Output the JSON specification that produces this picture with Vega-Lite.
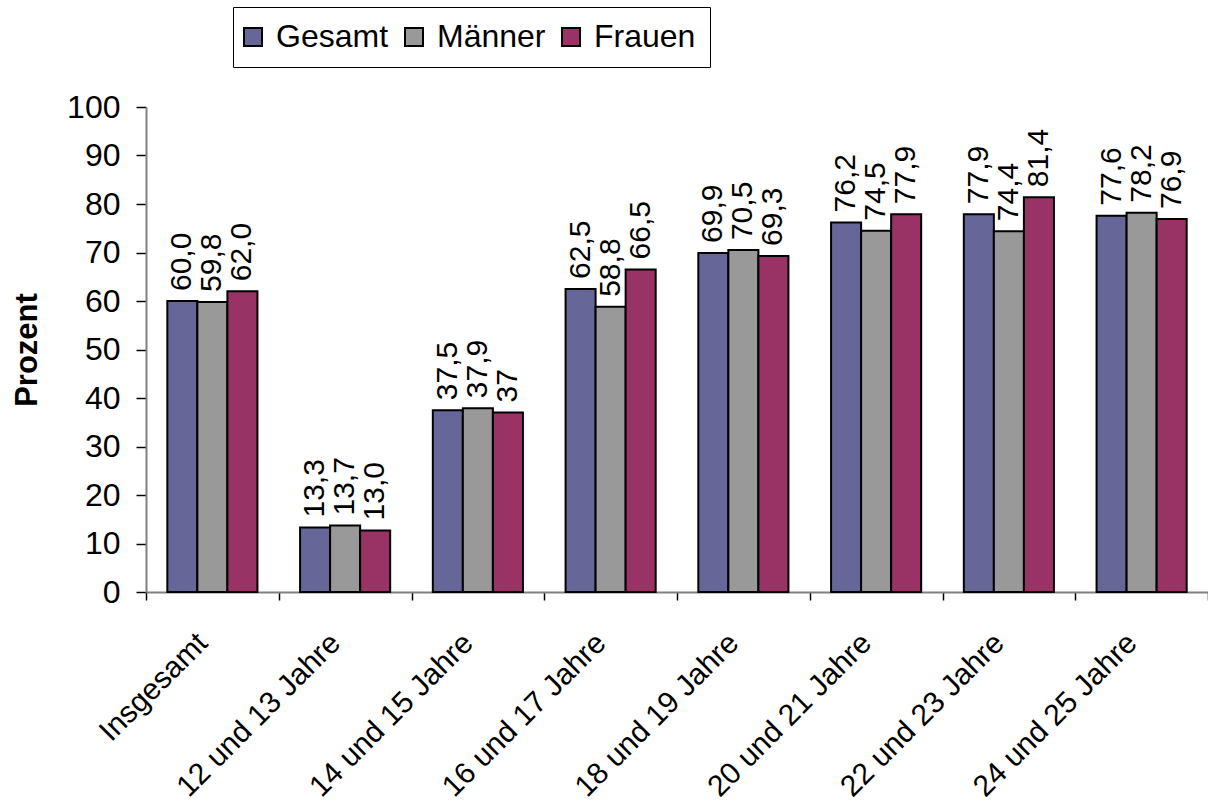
{
  "$schema": "https://vega.github.io/schema/vega-lite/v6.json",
  "autosize": {"type": "none"},
  "padding": {"left": 146, "top": 107, "right": 0, "bottom": 209},
  "width": 1062,
  "height": 485,
  "background": "white",
  "config": {
    "font": "Liberation Sans",
    "view": {"stroke": null}
  },
  "data": {
    "values": [
      {"gruppe": "Insgesamt", "serie": "Gesamt", "wert": 60.0, "label": "60,0"},
      {"gruppe": "Insgesamt", "serie": "Männer", "wert": 59.8, "label": "59,8"},
      {"gruppe": "Insgesamt", "serie": "Frauen", "wert": 62.0, "label": "62,0"},
      {"gruppe": "12 und 13 Jahre", "serie": "Gesamt", "wert": 13.3, "label": "13,3"},
      {"gruppe": "12 und 13 Jahre", "serie": "Männer", "wert": 13.7, "label": "13,7"},
      {"gruppe": "12 und 13 Jahre", "serie": "Frauen", "wert": 12.7, "label": "13,0"},
      {"gruppe": "14 und 15 Jahre", "serie": "Gesamt", "wert": 37.5, "label": "37,5"},
      {"gruppe": "14 und 15 Jahre", "serie": "Männer", "wert": 37.9, "label": "37,9"},
      {"gruppe": "14 und 15 Jahre", "serie": "Frauen", "wert": 37.0, "label": "37"},
      {"gruppe": "16 und 17 Jahre", "serie": "Gesamt", "wert": 62.5, "label": "62,5"},
      {"gruppe": "16 und 17 Jahre", "serie": "Männer", "wert": 58.8, "label": "58,8"},
      {"gruppe": "16 und 17 Jahre", "serie": "Frauen", "wert": 66.5, "label": "66,5"},
      {"gruppe": "18 und 19 Jahre", "serie": "Gesamt", "wert": 69.9, "label": "69,9"},
      {"gruppe": "18 und 19 Jahre", "serie": "Männer", "wert": 70.5, "label": "70,5"},
      {"gruppe": "18 und 19 Jahre", "serie": "Frauen", "wert": 69.3, "label": "69,3"},
      {"gruppe": "20 und 21 Jahre", "serie": "Gesamt", "wert": 76.2, "label": "76,2"},
      {"gruppe": "20 und 21 Jahre", "serie": "Männer", "wert": 74.5, "label": "74,5"},
      {"gruppe": "20 und 21 Jahre", "serie": "Frauen", "wert": 77.9, "label": "77,9"},
      {"gruppe": "22 und 23 Jahre", "serie": "Gesamt", "wert": 77.9, "label": "77,9"},
      {"gruppe": "22 und 23 Jahre", "serie": "Männer", "wert": 74.4, "label": "74,4"},
      {"gruppe": "22 und 23 Jahre", "serie": "Frauen", "wert": 81.4, "label": "81,4"},
      {"gruppe": "24 und 25 Jahre", "serie": "Gesamt", "wert": 77.6, "label": "77,6"},
      {"gruppe": "24 und 25 Jahre", "serie": "Männer", "wert": 78.2, "label": "78,2"},
      {"gruppe": "24 und 25 Jahre", "serie": "Frauen", "wert": 76.9, "label": "76,9"}
    ]
  },
  "encoding": {
    "x": {
      "field": "gruppe",
      "type": "nominal",
      "sort": null,
      "scale": {"paddingInner": 0, "paddingOuter": 0},
      "axis": {
        "title": null,
        "tickBand": "extent",
        "labelAngle": -45,
        "labelAlign": "right",
        "labelBaseline": "middle",
        "labelFontSize": 30,
        "labelColor": "black",
        "labelPadding": 38,
        "labelOffset": -10,
        "tickSize": 8,
        "tickColor": "black",
        "tickWidth": 1.5,
        "domainColor": "#808080",
        "domainWidth": 2,
        "labelLimit": 400
      }
    },
    "xOffset": {
      "field": "serie",
      "type": "nominal",
      "sort": ["Gesamt", "Männer", "Frauen"],
      "scale": {"paddingInner": 0, "paddingOuter": 0.71}
    },
    "y": {
      "field": "wert",
      "type": "quantitative",
      "scale": {"domain": [0, 100], "nice": false},
      "axis": {
        "title": "Prozent",
        "titleFontSize": 31,
        "titleFontWeight": "bold",
        "titleColor": "black",
        "titleX": -103,
        "values": [0, 10, 20, 30, 40, 50, 60, 70, 80, 90, 100],
        "labelFontSize": 32,
        "labelColor": "black",
        "labelPadding": 16,
        "tickSize": 10,
        "tickColor": "black",
        "tickWidth": 1.5,
        "domainColor": "#808080",
        "domainWidth": 2,
        "grid": false
      }
    }
  },
  "layer": [
    {
      "mark": {"type": "bar", "stroke": "black", "strokeWidth": 2},
      "encoding": {
        "color": {
          "field": "serie",
          "type": "nominal",
          "sort": ["Gesamt", "Männer", "Frauen"],
          "scale": {"domain": ["Gesamt", "Männer", "Frauen"], "range": ["#666699", "#999999", "#993366"]},
          "legend": {
            "title": null,
            "orient": "none",
            "legendX": 87,
            "legendY": -100,
            "direction": "horizontal",
            "symbolType": "square",
            "symbolSize": 324,
            "symbolStrokeColor": "black",
            "symbolStrokeWidth": 2,
            "symbolOffset": -10,
            "labelFontSize": 32,
            "labelColor": "black",
            "labelOffset": 7,
            "columnPadding": 12,
            "padding": 14,
            "strokeColor": "black",
            "fillColor": "white",
            "labelLimit": 300
          }
        }
      }
    },
    {
      "mark": {"type": "text", "angle": 270, "align": "left", "baseline": "middle", "dx": 10, "fontSize": 30, "color": "black"},
      "encoding": {
        "text": {"field": "label"}
      }
    }
  ]
}
